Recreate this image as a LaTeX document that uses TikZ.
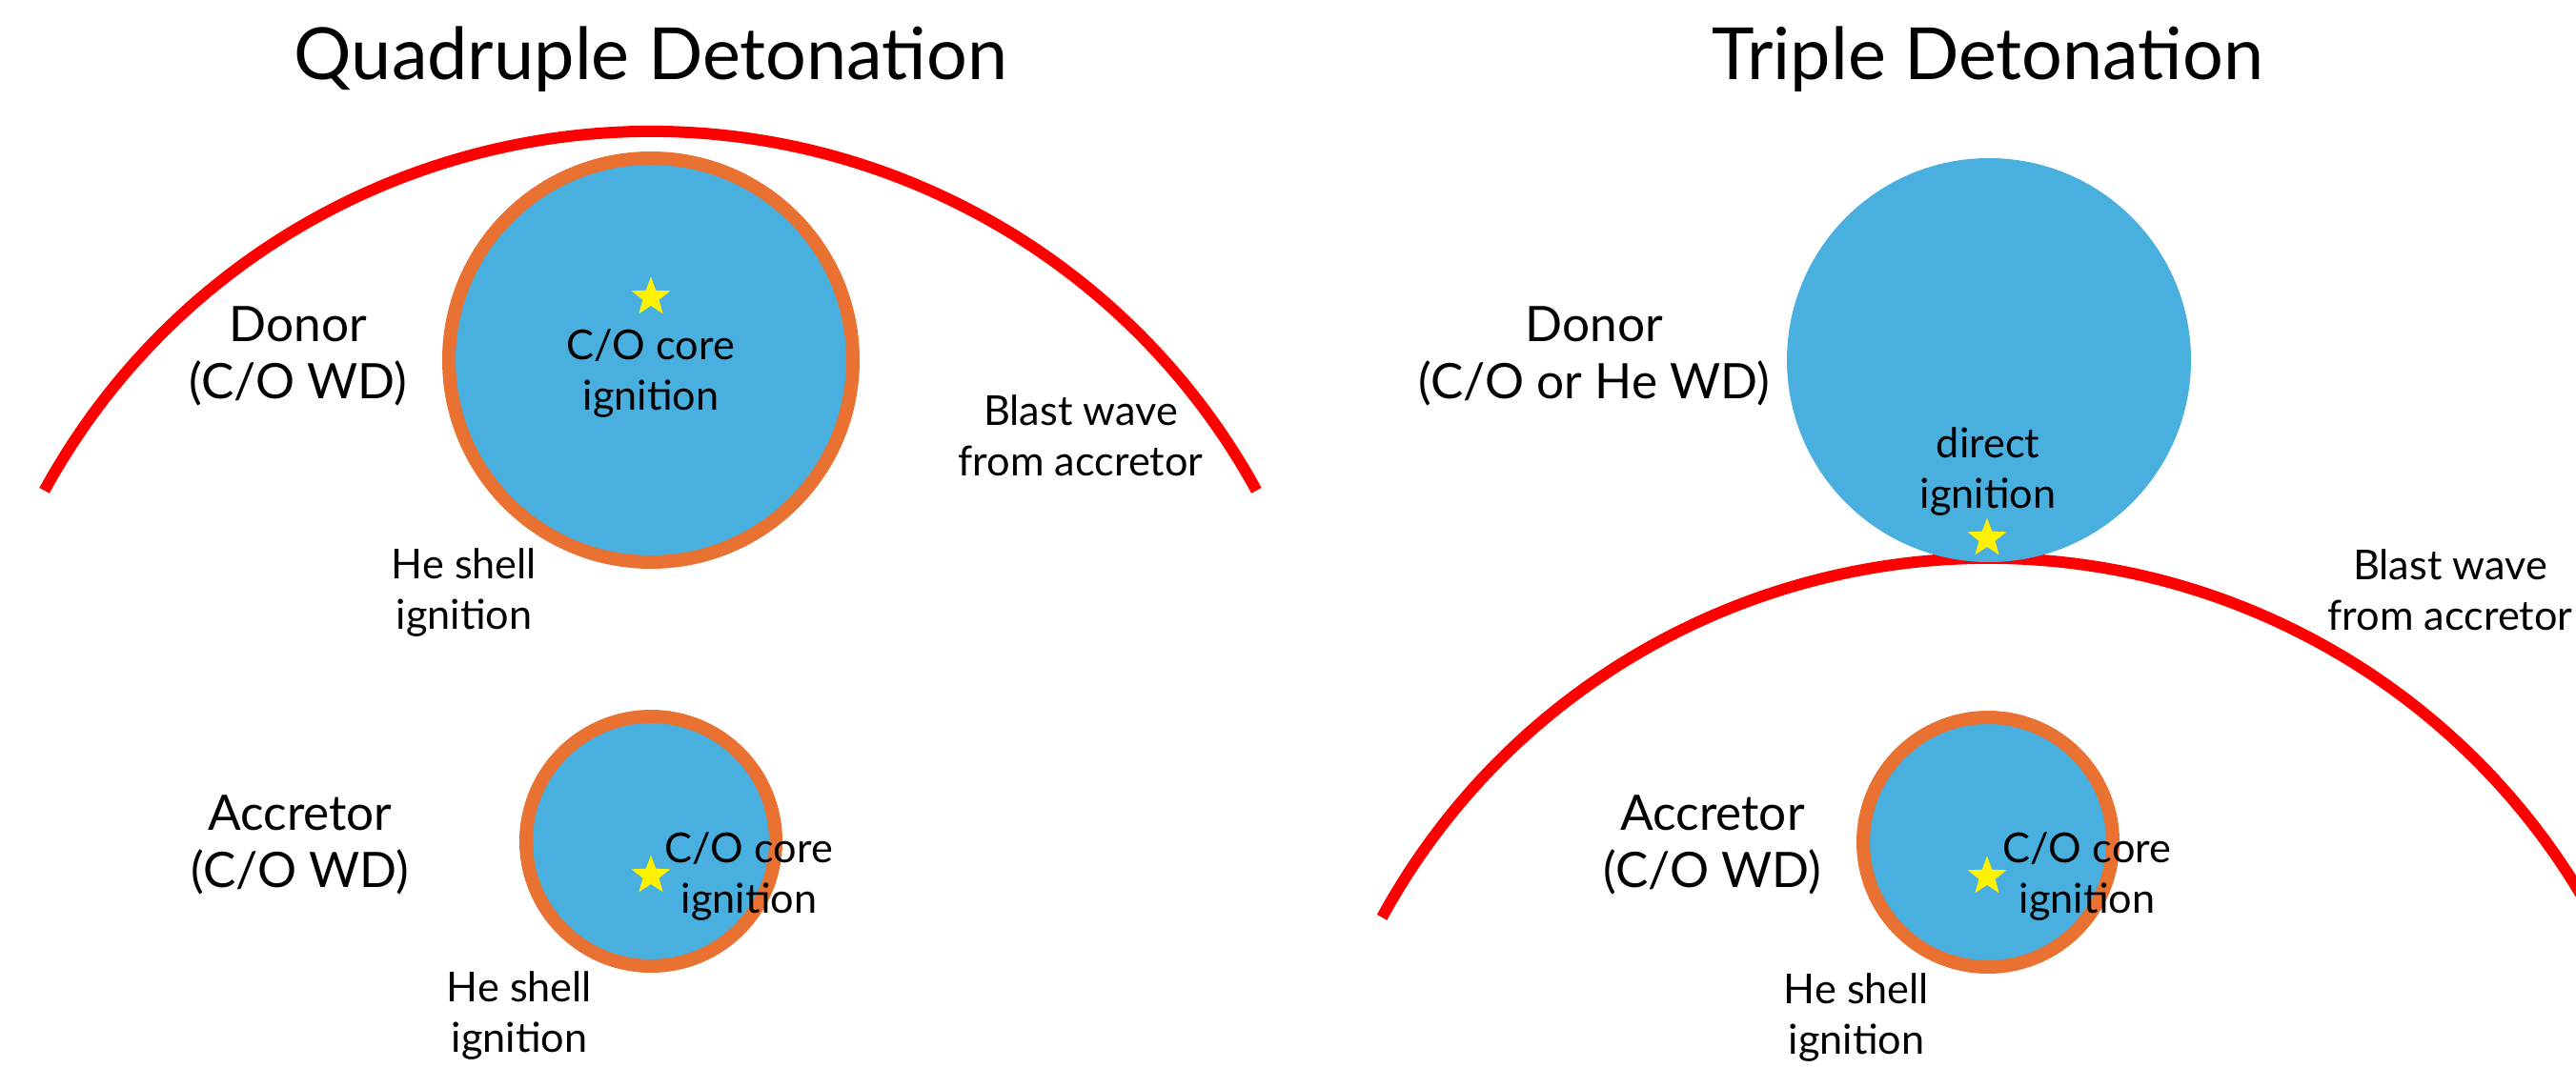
\documentclass[tikz,border=0pt]{standalone}
\usepackage{fontspec}
\setmainfont{Lato}
\usetikzlibrary{shapes.geometric}

\definecolor{wdblue}{HTML}{48AFDE}
\definecolor{shellorange}{HTML}{E97132}

\tikzset{
    title/.style={font=\fontsize{21.5}{26}\selectfont},
    wdlabel/.style={align=center,font=\fontsize{14.6}{17.2}\selectfont},
    note/.style={align=center,font=\fontsize{12.3}{15}\selectfont},
    ignstar/.style={star,star points=5,star point ratio=2.4,fill=yellow,inner sep=0pt,minimum size=0.43cm},
    blast/.style={draw=red,line width=0.12cm},
    shell/.style={draw=shellorange,fill=wdblue,line width=0.14cm}
}

\begin{document}
\begin{tikzpicture}
    \useasboundingbox (0,0) rectangle (27.03,-11.21);
    \clip (0,0) rectangle (27.03,-11.21);

    % quadruple detonation
    \node[title] (quadtitle) at (6.83,-0.62) {Quadruple Detonation};
    \coordinate (quadwave) at (6.825,-8.63);
    \draw[blast] ([shift={(151.3:7.25)}]quadwave) arc[start angle=151.3,end angle=28.7,radius=7.25];
    \draw[shell] (6.83,-3.78) circle (2.12);
    \draw[shell] (6.83,-8.83) circle (1.31);
    \node[ignstar] (quaddonorstar) at (6.83,-3.12) {};
    \node[ignstar] (quadaccstar) at (6.83,-9.19) {};

    \node[wdlabel] (quaddonor) at (3.13,-3.74) {Donor\\(C/O WD)};
    \node[note] (quadcore) at (6.83,-3.92) {C/O core\\ignition};
    \node[note] (quadwavetxt) at (11.34,-4.57) {Blast wave\\from accretor};
    \node[note] (quadshell) at (4.87,-6.22) {He shell\\ignition};
    \node[wdlabel] (quadacc) at (3.15,-8.87) {Accretor\\(C/O WD)};
    \node[note] (quadacccore) at (7.86,-9.2) {C/O core\\ignition};
    \node[note] (quadaccshell) at (5.45,-10.66) {He shell\\ignition};

    % triple detonation
    \node[title] (tripletitle) at (20.86,-0.62) {Triple Detonation};
    \coordinate (triplewave) at (20.86,-13.11);
    \draw[blast] ([shift={(151.3:7.25)}]triplewave) arc[start angle=151.3,end angle=28.7,radius=7.25];
    \fill[wdblue] (20.87,-3.78) circle (2.12);
    \draw[shell] (20.86,-8.84) circle (1.31);
    \node[ignstar] (tripledonorstar) at (20.85,-5.65) {};
    \node[ignstar] (tripleaccstar) at (20.85,-9.2) {};

    \node[wdlabel] (tripledonor) at (16.73,-3.74) {Donor\\(C/O or He WD)};
    \node[note] (tripledirect) at (20.86,-4.95) {direct\\ignition};
    \node[note] (triplewavetxt) at (25.71,-6.19) {Blast wave\\from accretor};
    \node[wdlabel] (tripleacc) at (17.97,-8.87) {Accretor\\(C/O WD)};
    \node[note] (tripleacccore) at (21.9,-9.2) {C/O core\\ignition};
    \node[note] (tripleaccshell) at (19.48,-10.68) {He shell\\ignition};
\end{tikzpicture}
\end{document}
